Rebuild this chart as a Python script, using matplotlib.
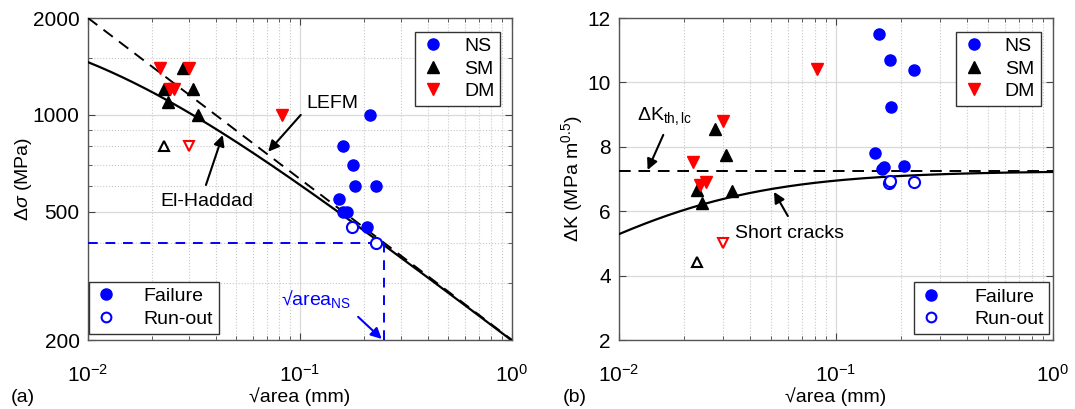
import numpy as np
import matplotlib
matplotlib.use("Agg")
import matplotlib.pyplot as plt
from matplotlib.lines import Line2D
from matplotlib.ticker import FixedLocator, FixedFormatter, NullFormatter

plt.rcParams['font.family'] = ['Liberation Sans', 'DejaVu Sans']
plt.rcParams['mathtext.fontset'] = 'custom'
plt.rcParams['mathtext.rm'] = 'Liberation Sans'
plt.rcParams['mathtext.it'] = 'Liberation Sans:italic'
plt.rcParams['mathtext.bf'] = 'Liberation Sans:bold'
plt.rcParams['font.size'] = 14

# ---------------- data: panel (a) ----------------
ns_fail_x_a = [0.214, 0.159, 0.178, 0.1815, 0.228, 0.152, 0.160, 0.167, 0.2075]
ns_fail_y_a = [1000, 800, 700, 600, 600, 550, 500, 500, 450]
ns_run_x_a = [0.175, 0.228]
ns_run_y_a = [450, 400]
sm_fail_x_a = [0.028, 0.0229, 0.0312, 0.0239, 0.0331]
sm_fail_y_a = [1400, 1200, 1200, 1100, 1000]
sm_run_x_a = [0.0229]
sm_run_y_a = [800]
dm_fail_x_a = [0.0219, 0.030, 0.0244, 0.0254, 0.082]
dm_fail_y_a = [1400, 1400, 1200, 1200, 1000]
dm_run_x_a = [0.030]
dm_run_y_a = [800]

# ---------------- data: panel (b) ----------------
ns_fail_x_b = [0.157, 0.177, 0.228, 0.179, 0.152, 0.2057, 0.163, 0.167]
ns_fail_k_b = [11.5, 10.7, 10.4, 9.25, 7.8, 7.4, 7.3, 7.38]
ns_run_x_b = [0.175, 0.178, 0.228]
ns_run_k_b = [6.87, 6.94, 6.92]
sm_fail_x_b = [0.0278, 0.0311, 0.0228, 0.033, 0.024]
sm_fail_k_b = [8.54, 7.75, 6.66, 6.64, 6.25]
sm_run_x_b = [0.0229]
sm_run_k_b = [4.43]
dm_fail_x_b = [0.0815, 0.030, 0.022, 0.0236, 0.0251]
dm_fail_k_b = [10.42, 8.81, 7.54, 6.81, 6.92]
dm_run_x_b = [0.030]
dm_run_k_b = [5.02]

# tick labels
yticks_a = [200, 500, 1000, 2000]
yticklabels_a = ['200', '500', '1000', '2000']
yticks_b = [2, 4, 6, 8, 10, 12]

# model parameters
dK_th_lc = 7.25          # long-crack threshold (MPa m^0.5)
sigma_ref = 200.0        # LEFM stress at sqrt(area)=1 mm (MPa)
a0 = 0.0088              # El-Haddad intrinsic length (mm)
area_NS = 0.25
sigma_NS = 400

x_curve = np.logspace(-2, 0, 300)
lefm = sigma_ref / np.sqrt(x_curve)
elh = sigma_ref / np.sqrt(x_curve + a0)
k_short = dK_th_lc * np.sqrt(x_curve / (x_curve + a0))

fig = plt.figure(figsize=(10.75, 4.09), dpi=100)
axA = fig.add_axes([88/1075, 69/409, 424/1075, 322/409])
axB = fig.add_axes([619/1075, 69/409, 434/1075, 322/409])

ms = 8
def style(ax):
    ax.set_xscale('log')
    ax.set_xlim(0.01, 1)
    ax.grid(True, which='major', color='#d9d9d9', lw=0.9, ls='-')
    ax.grid(True, which='minor', axis='x', color='#c8c8c8', lw=0.8, ls=':')
    ax.tick_params(which='both', direction='in', top=True, right=True, colors='#444444',
                   labelcolor='black', labelsize=15)
    ax.tick_params(which='major', length=5)
    ax.tick_params(which='minor', length=3)
    ax.tick_params(axis='x', which='both', pad=17)
    ax.tick_params(axis='y', which='both', pad=6)
    for s in ax.spines.values():
        s.set_color('#555555')
        s.set_linewidth(1.0)
    ax.set_axisbelow(True)
    ax.set_xlabel('√area (mm)', fontsize=14, labelpad=1)

# ---------- panel (a) ----------
axA.set_yscale('log')
axA.set_ylim(200, 2000)
style(axA)
axA.yaxis.set_major_locator(FixedLocator(yticks_a))
axA.yaxis.set_major_formatter(FixedFormatter(yticklabels_a))
axA.yaxis.set_minor_locator(FixedLocator([300, 400, 600, 700, 800, 900, 1500]))
axA.yaxis.set_minor_formatter(NullFormatter())
axA.grid(True, which='minor', axis='y', color='#c8c8c8', lw=0.8, ls=':')

axA.plot(x_curve, lefm, color='k', lw=1.4, ls=(0, (6, 4)), zorder=3)
axA.plot(x_curve, elh, color='k', lw=1.6, zorder=3)
axA.plot([0.01, area_NS], [sigma_NS, sigma_NS], color='blue', lw=1.4, ls=(0, (5, 4)), zorder=3)
axA.plot([area_NS, area_NS], [200, sigma_NS], color='blue', lw=1.4, ls=(0, (5, 4)), zorder=3)

axA.plot(ns_fail_x_a, ns_fail_y_a, 'o', color='blue', ms=ms, mec='blue', zorder=4)
axA.plot(ns_run_x_a, ns_run_y_a, 'o', mfc='white', mec='blue', mew=1.5, ms=ms, zorder=4)
axA.plot(sm_fail_x_a, sm_fail_y_a, '^', color='k', ms=ms, zorder=4)
axA.plot(sm_run_x_a, sm_run_y_a, '^', mfc='white', mec='k', mew=1.5, ms=ms-1, zorder=4)
axA.plot(dm_fail_x_a, dm_fail_y_a, 'v', color='red', ms=ms, zorder=4)
axA.plot(dm_run_x_a, dm_run_y_a, 'v', mfc='white', mec='red', mew=1.5, ms=ms-1, zorder=4)

arrow = dict(arrowstyle='-|>', color='k', lw=1.5, mutation_scale=16, shrinkA=0, shrinkB=0)
axA.annotate('', xy=(0.0708, 769), xytext=(0.1008, 1000), arrowprops=arrow)
axA.text(0.1076, 1089, 'LEFM', ha='left', va='center', fontsize=14)
axA.annotate('', xy=(0.0432, 866), xytext=(0.036, 606), arrowprops=arrow)
axA.text(0.0364, 538, 'El-Haddad', ha='center', va='center', fontsize=14)
arrowb = dict(arrowstyle='-|>', color='blue', lw=1.5, mutation_scale=16, shrinkA=0, shrinkB=0)
axA.annotate('', xy=(0.243, 201.5), xytext=(0.188, 236), arrowprops=arrowb)
axA.text(0.081, 268, '√area$_{\\mathrm{NS}}$', color='blue', ha='left', va='center', fontsize=14)

axA.set_ylabel('Δ$\\mathit{σ}$ (MPa)', fontsize=14, labelpad=-1)

# legends
leg_kw = dict(fontsize=14, frameon=True, fancybox=False, framealpha=1, edgecolor='#333333',
              handlelength=1.2, handletextpad=1.0, borderpad=0.3, labelspacing=0.25,
              borderaxespad=0)
h_type = [Line2D([], [], ls='none', marker='o', color='blue', ms=ms),
          Line2D([], [], ls='none', marker='^', color='k', ms=ms),
          Line2D([], [], ls='none', marker='v', color='red', ms=ms)]
h_fail = [Line2D([], [], ls='none', marker='o', color='blue', ms=ms),
          Line2D([], [], ls='none', marker='o', mfc='white', mec='blue', mew=1.5, ms=ms-1)]

lA1 = axA.legend(h_type, ['NS', 'SM', 'DM'], loc='upper right', bbox_to_anchor=(0.972, 0.957), **leg_kw)
lA1.get_frame().set_linewidth(1.0)
axA.add_artist(lA1)
lA2 = axA.legend(h_fail, ['Failure', 'Run-out'], loc='lower left', bbox_to_anchor=(0.002, 0.02),
                 **dict(leg_kw, handletextpad=1.3))
lA2.get_frame().set_linewidth(1.0)

# ---------- panel (b) ----------
axB.set_ylim(2, 12)
style(axB)
axB.set_yticks(yticks_b)

axB.plot(x_curve, np.full_like(x_curve, dK_th_lc), color='k', lw=1.4, ls=(0, (6, 4)), zorder=3)
axB.plot(x_curve, k_short, color='k', lw=1.6, zorder=3)

axB.plot(ns_fail_x_b, ns_fail_k_b, 'o', color='blue', ms=ms, zorder=4)
axB.plot(ns_run_x_b, ns_run_k_b, 'o', mfc='white', mec='blue', mew=1.5, ms=ms, zorder=4)
axB.plot(sm_fail_x_b, sm_fail_k_b, '^', color='k', ms=ms, zorder=4)
axB.plot(sm_run_x_b, sm_run_k_b, '^', mfc='white', mec='k', mew=1.5, ms=ms-1, zorder=4)
axB.plot(dm_fail_x_b, dm_fail_k_b, 'v', color='red', ms=ms, zorder=4)
axB.plot(dm_run_x_b, dm_run_k_b, 'v', mfc='white', mec='red', mew=1.5, ms=ms-1, zorder=4)

axB.annotate('', xy=(0.01355, 7.28), xytext=(0.016, 8.37), arrowprops=arrow)
axB.text(0.0121, 8.95, 'ΔK$_{\\mathrm{th,lc}}$', ha='left', va='center', fontsize=14)
axB.annotate('', xy=(0.0518, 6.6), xytext=(0.060, 5.85), arrowprops=arrow)
axB.text(0.0342, 5.31, 'Short cracks', ha='left', va='center', fontsize=14)

axB.set_ylabel('ΔK (MPa m$^{0.5}$)', fontsize=14, labelpad=2)

lB1 = axB.legend(h_type, ['NS', 'SM', 'DM'], loc='upper right', bbox_to_anchor=(0.972, 0.957), **leg_kw)
lB1.get_frame().set_linewidth(1.0)
axB.add_artist(lB1)
lB2 = axB.legend(h_fail, ['Failure', 'Run-out'], loc='lower right', bbox_to_anchor=(0.9915, 0.019),
                 **dict(leg_kw, handletextpad=1.6))
lB2.get_frame().set_linewidth(1.0)

fig.text(23/1075, 1 - 397/409, '(a)', ha='center', va='center', fontsize=14)
fig.text(575/1075, 1 - 397/409, '(b)', ha='center', va='center', fontsize=14)

fig.savefig('out.png', dpi=100)
